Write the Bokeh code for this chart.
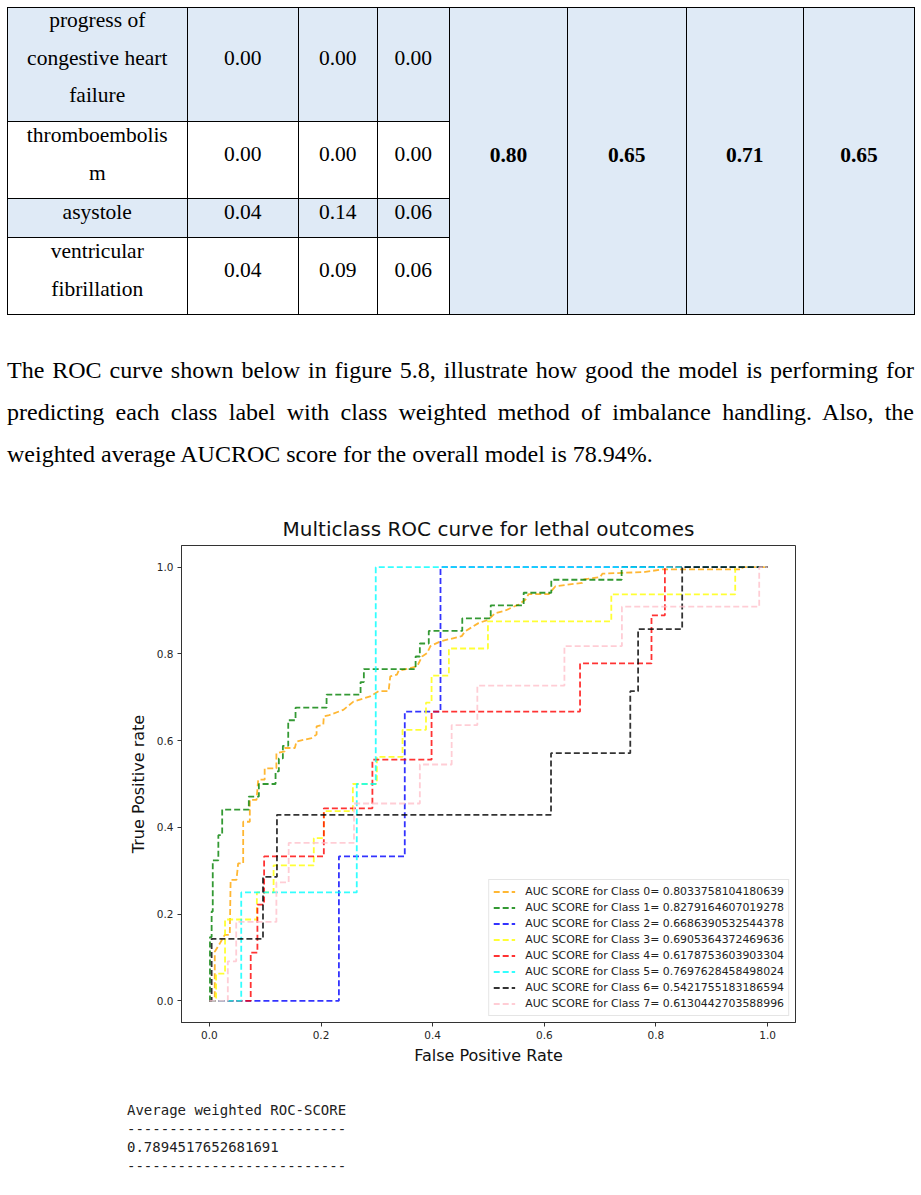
from bokeh.plotting import figure
from bokeh.models import Range1d, Legend, LegendItem, FixedTicker, PrintfTickFormatter, Div
from bokeh.layouts import column
from bokeh.embed import file_html
from bokeh.resources import INLINE

# ---------------- table of per-class scores ----------------
row_labels = [["progress of", "congestive heart", "failure"],
              ["thromboembolis", "m"],
              ["asystole"],
              ["ventricular", "fibrillation"]]
precision = ["0.00", "0.00", "0.04", "0.04"]
recall = ["0.00", "0.00", "0.14", "0.09"]
f1_score = ["0.00", "0.00", "0.06", "0.06"]
overall_scores = ["0.80", "0.65", "0.71", "0.65"]

# ---------------- ROC curves (fpr / tpr corner points) ----------------
fpr_0 = [0.0, 0.0096, 0.0096, 0.0185, 0.0275, 0.0365, 0.038, 0.0485, 0.0515, 0.0605, 0.0605, 0.0724,
         0.0724, 0.0844, 0.0874, 0.099, 0.099, 0.120, 0.120, 0.135, 0.135, 0.153, 0.156, 0.183, 0.192,
         0.192, 0.204, 0.205, 0.213, 0.240, 0.258, 0.288, 0.303, 0.321, 0.324, 0.336, 0.339, 0.372,
         0.381, 0.390, 0.396, 0.414, 0.452, 0.458, 0.482, 0.500, 0.512, 0.530, 0.554, 0.566, 0.572,
         0.608, 0.620, 0.668, 0.671, 0.700, 0.704, 0.781, 0.811, 0.955, 0.955, 1.0]
tpr_0 = [0.0, 0.0, 0.113, 0.132, 0.152, 0.152, 0.279, 0.279, 0.317, 0.317, 0.413, 0.413,
         0.4635, 0.4635, 0.510, 0.510, 0.536, 0.536, 0.571, 0.575, 0.583, 0.583, 0.598, 0.606, 0.614,
         0.633, 0.637, 0.656, 0.658, 0.671, 0.690, 0.702, 0.714, 0.714, 0.748, 0.752, 0.761, 0.771,
         0.794, 0.802, 0.818, 0.829, 0.841, 0.852, 0.871, 0.879, 0.894, 0.900, 0.914, 0.925, 0.938,
         0.938, 0.956, 0.964, 0.972, 0.977, 0.985, 0.989, 0.995, 0.995, 1.0, 1.0]

fpr_1 = [0.0, 0.001, 0.001, 0.004, 0.004, 0.006, 0.006, 0.016, 0.016, 0.0229, 0.0229, 0.0706,
         0.0706, 0.0886, 0.0886, 0.1185, 0.1185, 0.1244, 0.1244, 0.1316, 0.1316, 0.1412, 0.1412,
         0.1543, 0.1543, 0.2099, 0.2099, 0.2708, 0.2708, 0.2767, 0.2767, 0.3694, 0.3694, 0.377,
         0.377, 0.393, 0.393, 0.453, 0.453, 0.504, 0.504, 0.563, 0.563, 0.6125, 0.6125, 0.7385,
         0.7385, 1.0]
tpr_1 = [0.0, 0.0, 0.147, 0.147, 0.206, 0.206, 0.324, 0.324, 0.382, 0.382, 0.441, 0.441,
         0.471, 0.471, 0.500, 0.500, 0.529, 0.529, 0.559, 0.559, 0.588, 0.588, 0.647,
         0.647, 0.676, 0.676, 0.706, 0.706, 0.735, 0.735, 0.765, 0.765, 0.794, 0.794,
         0.824, 0.824, 0.853, 0.853, 0.882, 0.882, 0.912, 0.912, 0.941, 0.941, 0.971, 0.971,
         1.0, 1.0]

fpr_2 = [0.0, 0.232, 0.232, 0.350, 0.350, 0.414, 0.414, 1.0]
tpr_2 = [0.0, 0.0, 0.333, 0.333, 0.667, 0.667, 1.0, 1.0]

fpr_3 = [0.0, 0.012, 0.012, 0.028, 0.028, 0.085, 0.085, 0.115, 0.115, 0.187, 0.187, 0.205,
         0.205, 0.257, 0.257, 0.300, 0.300, 0.346, 0.346, 0.388, 0.388, 0.398, 0.398, 0.429,
         0.429, 0.499, 0.499, 0.720, 0.720, 0.942, 0.942, 1.0]
tpr_3 = [0.0, 0.0, 0.0625, 0.0625, 0.1875, 0.1875, 0.25, 0.25, 0.3125, 0.3125, 0.375, 0.375,
         0.4375, 0.4375, 0.5, 0.5, 0.5625, 0.5625, 0.625, 0.625, 0.6875, 0.6875, 0.75, 0.75,
         0.8125, 0.8125, 0.875, 0.875, 0.9375, 0.9375, 1.0, 1.0]

fpr_4 = [0.0, 0.074, 0.074, 0.086, 0.086, 0.098, 0.098, 0.205, 0.205, 0.292, 0.292, 0.398,
         0.398, 0.664, 0.664, 0.792, 0.792, 0.816, 0.816, 1.0]
tpr_4 = [0.0, 0.0, 0.111, 0.111, 0.222, 0.222, 0.333, 0.333, 0.444, 0.444, 0.556, 0.556,
         0.667, 0.667, 0.778, 0.778, 0.889, 0.889, 1.0, 1.0]

fpr_5 = [0.0, 0.057, 0.057, 0.264, 0.264, 0.298, 0.298, 1.0]
tpr_5 = [0.0, 0.0, 0.25, 0.25, 0.5, 0.5, 1.0, 1.0]

fpr_6 = [0.0, 0.004, 0.004, 0.096, 0.096, 0.121, 0.121, 0.612, 0.612, 0.754, 0.754, 0.768,
         0.768, 0.847, 0.847, 1.0]
tpr_6 = [0.0, 0.0, 0.143, 0.143, 0.286, 0.286, 0.429, 0.429, 0.571, 0.571, 0.714, 0.714,
         0.857, 0.857, 1.0, 1.0]

fpr_7 = [0.0, 0.033, 0.033, 0.048, 0.048, 0.120, 0.120, 0.142, 0.142, 0.259, 0.259, 0.377,
         0.377, 0.434, 0.434, 0.480, 0.480, 0.636, 0.636, 0.739, 0.739, 0.985, 0.985, 1.0]
tpr_7 = [0.0, 0.0, 0.091, 0.091, 0.182, 0.182, 0.273, 0.273, 0.364, 0.364, 0.455, 0.455,
         0.545, 0.545, 0.636, 0.636, 0.727, 0.727, 0.818, 0.818, 0.909, 0.909, 1.0, 1.0]

auc_scores = [0.8033758104180639, 0.8279164607019278, 0.6686390532544378, 0.6905364372469636,
              0.6178753603903304, 0.7697628458498024, 0.5421755183186594, 0.6130442703588996]
weighted_auc = 0.7894517652681691
class_colors = ["orange", "green", "blue", "yellow", "red", "cyan", "black", "pink"]
axis_ticks = [0.0, 0.2, 0.4, 0.6, 0.8, 1.0]

fprs = [fpr_0, fpr_1, fpr_2, fpr_3, fpr_4, fpr_5, fpr_6, fpr_7]
tprs = [tpr_0, tpr_1, tpr_2, tpr_3, tpr_4, tpr_5, tpr_6, tpr_7]

W = 921
SANS = "DejaVu Sans"
SERIF_CSS = "'Liberation Serif', 'Times New Roman', serif"
CELL_BLUE = "#dfeaf6"

# ================= upper block: table + paragraph (HTML) =================
col_widths = [179.5, 111.5, 78.5, 72.5, 118, 118.5, 117.5, 111]
row_heights = [113, 77, 39, 77]
row_fill = [CELL_BLUE, "white", CELL_BLUE, "white"]
row_lift = [6, 5, 5, 5]

td_base = ("border:1.3px solid #000;padding:0;text-align:center;vertical-align:middle;"
           f"font-family:{SERIF_CSS};font-size:21.5px;line-height:37.5px;color:#000;")

rows_html = []
for r in range(4):
    lift = f"position:relative;top:-{row_lift[r]}px;"
    cells = [f"<td style=\"{td_base}background:{row_fill[r]};height:{row_heights[r]}px;\">"
             f"<div style=\"{lift}\">{'<br>'.join(row_labels[r])}</div></td>"]
    for vals in (precision, recall, f1_score):
        cells.append(f"<td style=\"{td_base}background:{row_fill[r]};\">"
                     f"<div style=\"{lift}\">{vals[r]}</div></td>")
    if r == 0:
        for s in overall_scores:
            cells.append(f"<td rowspan=\"4\" style=\"{td_base}background:{CELL_BLUE};font-weight:bold;\">"
                         f"<div style=\"position:relative;top:-5px;\">{s}</div></td>")
    rows_html.append("<tr>" + "".join(cells) + "</tr>")

colgroup = "<colgroup>" + "".join(f"<col style=\"width:{w}px\">" for w in col_widths) + "</colgroup>"
table_html = (f"<table style=\"position:absolute;left:7px;top:7px;width:907px;border-collapse:collapse;"
              f"table-layout:fixed;border-spacing:0;\">{colgroup}{''.join(rows_html)}</table>")

weighted_pct = int(weighted_auc * 10000) / 100  # truncated to two decimals
paragraph = [
    "The ROC curve shown below in figure 5.8, illustrate how good the model is performing for",
    "predicting each class label with class weighted method of imbalance handling. Also, the",
    f"weighted average AUCROC score for the overall model is {weighted_pct:.2f}%.",
]
para_lines = []
for i, line in enumerate(paragraph):
    last = "left" if i == len(paragraph) - 1 else "justify"
    para_lines.append(f"<div style=\"text-align:justify;text-align-last:{last};white-space:nowrap;\">{line}</div>")
para_html = (f"<div style=\"position:absolute;left:7px;top:349px;width:907px;font-family:{SERIF_CSS};"
             f"font-size:24px;line-height:42px;color:#000;\">{''.join(para_lines)}</div>")

top = Div(text=f"<div style=\"position:relative;width:{W}px;height:500px;overflow:hidden;background:#fff;\">"
               f"{table_html}{para_html}</div>",
          width=W, height=500, margin=0)

# ================= ROC chart =================
roc = figure(width=W, height=575, x_range=Range1d(-0.05, 1.05), y_range=Range1d(-0.05, 1.05),
             output_backend="svg", toolbar_location=None,
             min_border_left=181, min_border_right=126, min_border_top=45, min_border_bottom=53,
             title="Multiclass ROC curve for lethal outcomes")
roc.title.align = "center"
roc.title.text_font = SANS
roc.title.text_font_size = "20px"
roc.title.text_font_style = "normal"
roc.title.text_color = "#111111"
roc.grid.visible = False
roc.outline_line_color = "#333333"
roc.outline_line_width = 1

for ax in (roc.xaxis[0], roc.yaxis[0]):
    ax.ticker = FixedTicker(ticks=axis_ticks)
    ax.formatter = PrintfTickFormatter(format="%.1f")
    ax.major_tick_in = 0
    ax.major_tick_out = 4
    ax.minor_tick_line_color = None
    ax.axis_line_color = "#333333"
    ax.major_tick_line_color = "#333333"
    ax.major_label_text_font = SANS
    ax.major_label_text_font_size = "10.5px"
    ax.major_label_text_color = "#262626"
    ax.major_label_standoff = 4
    ax.axis_label_text_font = SANS
    ax.axis_label_text_font_size = "16px"
    ax.axis_label_text_font_style = "normal"
    ax.axis_label_text_color = "#111111"
roc.xaxis.axis_label = "False Positive Rate"
roc.yaxis.axis_label = "True Positive rate"
roc.xaxis.axis_label_standoff = 4
roc.yaxis.axis_label_standoff = 6

items = []
for i in range(8):
    r = roc.line(fprs[i], tprs[i], line_color=class_colors[i], line_width=1.8, line_dash="6 3",
                 line_alpha=0.8)
    items.append(LegendItem(label=f"AUC SCORE for Class {i}= {auc_scores[i]!r}", renderers=[r]))

legend = Legend(items=items, location="bottom_right")
legend.margin = 6
legend.padding = 4
legend.spacing = 1
legend.glyph_width = 22
legend.glyph_height = 15
legend.label_height = 15
legend.label_standoff = 10
legend.label_text_font = SANS
legend.label_text_font_size = "10.9px"
legend.label_text_color = "#222222"
legend.border_line_color = "#cccccc"
legend.background_fill_alpha = 0.85
roc.add_layout(legend)

# ================= console output below the chart =================
rule = "-" * 26
console = ["Average weighted ROC-SCORE", rule, repr(weighted_auc), rule]
console_html = (f"<pre style=\"position:absolute;left:127px;top:26px;margin:0;font-family:'DejaVu Sans Mono',monospace;"
                f"font-size:14px;line-height:18.5px;color:#222;\">{chr(10).join(console)}</pre>")
bottom = Div(text=f"<div style=\"position:relative;width:{W}px;height:120px;overflow:hidden;background:#fff;\">"
                  f"{console_html}</div>",
             width=W, height=120, margin=0)

page = column(top, roc, bottom, spacing=0)
open("out.html", "w").write(file_html(page, INLINE))
